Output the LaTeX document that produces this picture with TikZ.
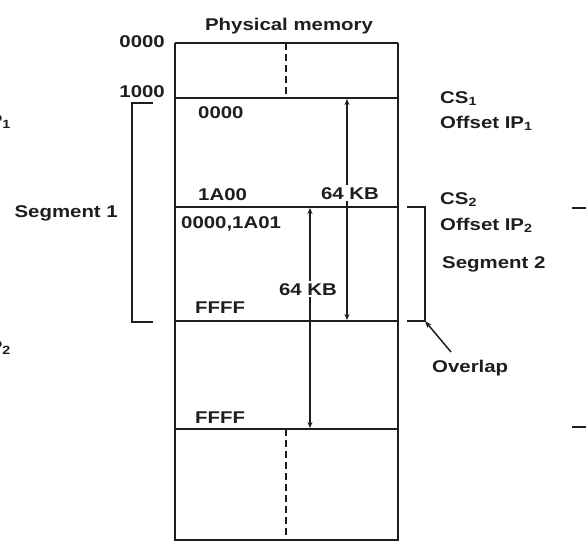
\documentclass[tikz,border=0pt]{standalone}
\usepackage{fontspec}
\newfontfamily\lbl[FakeStretch=1.2]{Liberation Sans}
\usetikzlibrary{arrows.meta}
\definecolor{ink}{HTML}{1E1E1E}
\begin{document}
\begin{tikzpicture}[x=1pt,y=-1pt,
  txt/.style={font=\lbl\bfseries\fontsize{17}{20}\selectfont, inner sep=0pt, text=ink},
  ln/.style={line width=1.7pt, draw=ink},
  dashln/.style={line width=1.7pt, draw=ink, dash pattern=on 7pt off 4pt},
  dimarr/.style={line width=1.5pt, draw=ink, {Stealth[length=6pt,width=5pt]}-{Stealth[length=6pt,width=5pt]}},
  onearr/.style={line width=1.5pt, draw=ink, -{Stealth[length=7pt,width=5pt]}},
  gap/.style={txt, fill=white, inner sep=2pt}]
\useasboundingbox (0,0) rectangle (586,541);
\clip (0,0) rectangle (586,541);
\fill[white] (0,0) rectangle (586,541);

% memory column
\coordinate (tl) at (175,43);
\coordinate (tr) at (398,43);
\coordinate (bl) at (175,541);
\coordinate (br) at (398,541);
\coordinate (l1) at (175,98);   \coordinate (r1) at (398,98);
\coordinate (l2) at (175,207);  \coordinate (r2) at (398,207);
\coordinate (l3) at (175,321);  \coordinate (r3) at (398,321);
\coordinate (l4) at (175,429);  \coordinate (r4) at (398,429);
\coordinate (l5) at (175,540);  \coordinate (r5) at (398,540);
\draw[ln] (tl) -- (bl);
\draw[ln] (tr) -- (br);
\draw[ln] (tl) -- (tr);
\draw[ln] (l1) -- (r1);
\draw[ln] (l2) -- (r2);
\draw[ln] (l3) -- (r3);
\draw[ln] (l4) -- (r4);
\draw[ln] (l5) -- (r5);

% dashed centre lines
\coordinate (d1a) at (286,43);  \coordinate (d1b) at (286,98);
\coordinate (d2a) at (286,429); \coordinate (d2b) at (286,541);
\draw[dashln] (d1a) -- (d1b);
\draw[dashln] (d2a) -- (d2b);

% dimension arrows
\coordinate (a1t) at (347,99);  \coordinate (a1b) at (347,320);
\draw[dimarr] (a1t) -- (a1b);
\coordinate (a2t) at (310,208); \coordinate (a2b) at (310,428);
\draw[dimarr] (a2t) -- (a2b);
\node[gap, anchor=base] (kb1) at (350,199) {64 KB};
\node[gap, anchor=base] (kb2) at (308,295) {64 KB};

% titles and addresses
\node[txt, anchor=base] (title) at (289,30) {Physical memory};
\node[txt, anchor=base east] (a0000) at (165,47) {0000};
\node[txt, anchor=base east] (a1000) at (165,97) {1000};
\node[txt, anchor=base west] (o0000) at (198,118) {0000};
\node[txt, anchor=base west] (o1a00) at (198,200) {1A00};
\node[txt, anchor=base west] (o1a01) at (181,228) {0000,1A01};
\node[txt, anchor=base west] (offff1) at (195,313) {FFFF};
\node[txt, anchor=base west] (offff2) at (195,423) {FFFF};

% left bracket: segment 1
\coordinate (s1t) at (153,103); \coordinate (s1tc) at (132,103);
\coordinate (s1bc) at (132,322); \coordinate (s1b) at (153,322);
\draw[ln] (s1t) -- (s1tc) -- (s1bc) -- (s1b);
\node[txt, anchor=base east] (seg1) at (118,217) {Segment 1};

% right bracket: segment 2
\coordinate (s2t) at (407,207); \coordinate (s2tc) at (425,207);
\coordinate (s2bc) at (425,321); \coordinate (s2b) at (407,321);
\draw[ln] (s2t) -- (s2tc) -- (s2bc) -- (s2b);

% right labels
\node[txt, anchor=base west] (cs1) at (440,103) {CS\textsubscript{1}};
\node[txt, anchor=base west] (ip1) at (440,128) {Offset IP\textsubscript{1}};
\node[txt, anchor=base west] (cs2) at (440,204) {CS\textsubscript{2}};
\node[txt, anchor=base west] (ip2) at (440,230) {Offset IP\textsubscript{2}};
\node[txt, anchor=base west] (seg2) at (442,268) {Segment 2};
\node[txt, anchor=base west] (ovl) at (432,372) {Overlap};
\coordinate (ovs) at (451,352);
\draw[onearr] (ovs) -- (s2bc);

% cut-off elements at the edges
\node[txt, anchor=base east] (lip1) at (11,126) {IP\textsubscript{1}};
\node[txt, anchor=base east] (lip2) at (11,352) {IP\textsubscript{2}};
\coordinate (e1a) at (572,208); \coordinate (e1b) at (590,208);
\coordinate (e2a) at (572,427); \coordinate (e2b) at (590,427);
\draw[ln] (e1a) -- (e1b);
\draw[ln] (e2a) -- (e2b);
\end{tikzpicture}
\end{document}
